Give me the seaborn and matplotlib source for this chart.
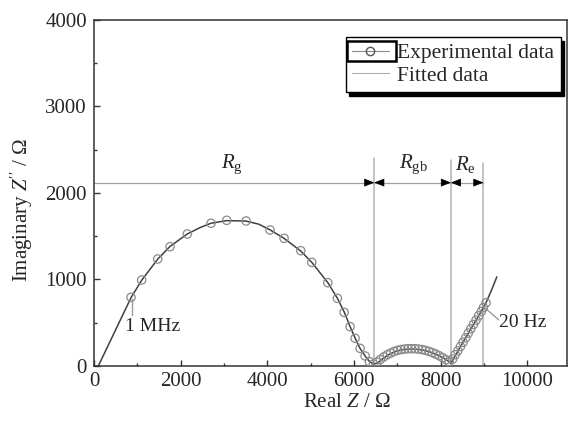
import matplotlib
matplotlib.use("Agg")
import matplotlib.pyplot as plt
import seaborn as sns
import pandas as pd
from matplotlib.lines import Line2D
from matplotlib.patches import Rectangle
from matplotlib.ticker import MultipleLocator

# experimental impedance points
exp_re = [855, 1101, 1471, 1755, 2155, 2702, 3064, 3510, 4065, 4388, 4773, 5027,
          5397, 5619, 5774, 5912, 6028, 6143, 6259, 6358, 6451,
          6530, 6610, 6690, 6770, 6850, 6930, 7010, 7090, 7170, 7250, 7330, 7410,
          7490, 7570, 7650, 7730, 7810, 7890, 7970, 8050, 8130, 8200,
          8280, 8340, 8400, 8460, 8520, 8580, 8640, 8700, 8760, 8820, 8880,
          8940, 8990, 9050]
exp_im = [794, 994, 1237, 1379, 1526, 1650, 1684, 1676, 1572, 1476, 1333, 1198,
          963, 782, 620, 455, 320, 204, 116, 50, 23,
          45, 75, 105, 130, 150, 168, 181, 190, 196, 199, 200, 199,
          196, 190, 181, 169, 155, 138, 118, 96, 72, 48,
          80, 130, 175, 225, 275, 325, 380, 430, 480, 530, 580,
          630, 675, 730]

# fitted curve
fit_re = [100, 855, 1100, 1470, 1750, 2150, 2450, 2700, 3060, 3500, 3800, 4060,
          4380, 4770, 5030, 5400, 5620, 5780, 5910, 6030, 6140, 6260, 6360, 6460,
          6560, 6680, 6800, 6960, 7120, 7280, 7440, 7600, 7760, 7920, 8080, 8170,
          8240, 8300, 8400, 8460, 8580, 8700, 8820, 8940, 9050, 9180, 9300]
fit_im = [0, 790, 990, 1235, 1380, 1525, 1600, 1650, 1680, 1676, 1640, 1575,
          1478, 1330, 1197, 962, 782, 620, 458, 320, 205, 115, 52, 20,
          40, 90, 130, 168, 188, 196, 194, 183, 162, 130, 88, 60,
          30, 85, 170, 225, 325, 430, 530, 630, 730, 880, 1030]

bounds = [6470, 8240, 8990]
bound_tops = [2400, 2380, 2350]
arrow_level = 2120
region_labels = [r"$R_{\mathrm{g}}$", r"$R_{\mathrm{gb}}$", r"$R_{\mathrm{e}}$"]
region_x = [3180, 7375, 8570]
region_y = 2330

sns.set_style("ticks")
plt.rcParams["font.family"] = ["Liberation Serif", "DejaVu Serif"]
plt.rcParams["mathtext.fontset"] = "custom"
plt.rcParams["mathtext.rm"] = "Liberation Serif"
plt.rcParams["mathtext.it"] = "Liberation Serif:italic"

fig = plt.figure(figsize=(5.69, 4.23), dpi=100)
ax = fig.add_axes([0.1652, 0.1348, 0.8313, 0.818])

fit_df = pd.DataFrame({"re": fit_re, "im": fit_im})
exp_df = pd.DataFrame({"re": exp_re, "im": exp_im})

# boundaries and the resistance arrows
for bx, top in zip(bounds, bound_tops):
    ax.plot([bx, bx], [0, top], color="#b4b4b4", lw=1.1, zorder=1)
ax.plot([0, bounds[-1]], [arrow_level, arrow_level], color="#a0a0a0", lw=0.9, zorder=1)
head = dict(arrowstyle="-|>,head_length=0.45,head_width=0.18", color="black",
            shrinkA=0, shrinkB=0, mutation_scale=14, lw=0.5)
starts = [0] + bounds[:-1]
for i, bx in enumerate(bounds):
    ax.annotate("", xy=(bx, arrow_level), xytext=(bx - 180, arrow_level), arrowprops=head)
    if i > 0:
        ax.annotate("", xy=(starts[i], arrow_level), xytext=(starts[i] + 180, arrow_level),
                    arrowprops=head)
for lab, lx in zip(region_labels, region_x):
    ax.text(lx, region_y, lab, ha="center", va="center", fontsize=15)

sns.lineplot(data=fit_df, x="re", y="im", sort=False, estimator=None,
             color="#404040", lw=1.1, ax=ax, zorder=2)
sns.scatterplot(data=exp_df, x="re", y="im", marker="o", s=36,
                facecolors="none", edgecolors="#8a8a8a", linewidth=0.9, ax=ax, zorder=3)

# frequency annotations
ax.plot([870, 870], [590, 780], color="#9a9a9a", lw=1.0)
ax.text(716, 455, "1 MHz", ha="left", va="center", fontsize=14)
ax.plot([9040, 9340], [665, 535], color="#9a9a9a", lw=1.0)
ax.text(9340, 497, "20 Hz", ha="left", va="center", fontsize=14)

ax.set_xlim(0, 10920)
ax.set_ylim(0, 4000)
ax.xaxis.set_major_locator(MultipleLocator(2000))
ax.xaxis.set_minor_locator(MultipleLocator(1000))
ax.yaxis.set_major_locator(MultipleLocator(1000))
ax.yaxis.set_minor_locator(MultipleLocator(500))
ax.tick_params(which="both", direction="in", top=False, right=False,
               color="#333333", width=1.0, labelsize=15)
ax.tick_params(which="major", length=4.5)
ax.tick_params(which="minor", length=2.5)
ax.tick_params(axis="x", pad=4)
ax.tick_params(axis="y", pad=5)
for sp in ax.spines.values():
    sp.set_visible(True)
    sp.set_color("#333333")
    sp.set_linewidth(1.1)

ax.set_xlabel(r"Real $Z$ / Ω", fontsize=15)
ax.set_ylabel(r"Imaginary $Z''$ / Ω", fontsize=15)
ax.xaxis.set_label_coords(0.535, -0.078)
ax.yaxis.set_label_coords(-0.125, 0.45)

handles = [
    Line2D([], [], color="#8a8a8a", lw=0.8, marker="o", mfc="none", mec="#555555", ms=6),
    Line2D([], [], color="#b0b0b0", lw=0.8),
]
leg = ax.legend(handles, ["Experimental data", "Fitted data"], loc="upper right",
                bbox_to_anchor=(0.987, 0.951), borderaxespad=0, fontsize=15.5,
                frameon=True, fancybox=False, framealpha=1, edgecolor="black",
                handlelength=1.7, handletextpad=0.4, labelspacing=0.1, borderpad=0.3,
                shadow={"ox": 2.5, "oy": -3, "facecolor": "black", "edgecolor": "black", "alpha": 1})
leg.get_frame().set_linewidth(1.0)

# thick box around the first legend handle
fig.canvas.draw()
bb = leg.legend_handles[0].get_window_extent()
cy = (bb.y0 + bb.y1) / 2
fig.patches.append(Rectangle((bb.x0 - 1, cy - 10), bb.width + 4, 20, transform=None,
                             fill=False, edgecolor="black", lw=1.8, zorder=10))

fig.savefig("out.png", dpi=100)
